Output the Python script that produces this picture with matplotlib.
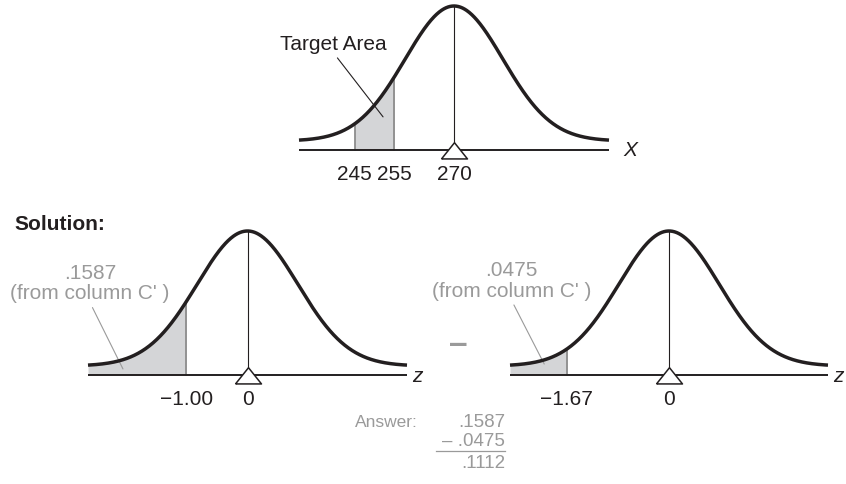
import numpy as np
import matplotlib
matplotlib.use('Agg')
import matplotlib.pyplot as plt
from matplotlib.lines import Line2D

plt.rcParams['font.family'] = ['Liberation Sans', 'DejaVu Sans']

# ---------------- data ----------------
means = [270, 0, 0]
sds = [15, 1, 1]
shade_lo = [245, None, None]          # None -> from the left end of the curve
shade_hi = [255, -1.00, -1.67]
tick_values = [[245, 255, 270], [-1.00, 0], [-1.67, 0]]
tick_labels = [['245', '255', '270'], ['\u22121.00', '0'], ['\u22121.67', '0']]
axis_names = ['X', 'z', 'z']
area_labels = ['Target Area', '.1587\n(from column C\' )', '.0475\n(from column C\' )']
answer_terms = ['.1587', '.0475']
answer_result = '.1112'

# ---------------- style / layout ----------------
FIG_W, FIG_H, DPI = 846, 485, 100
BLACK = '#231f20'
GRAY = '#9a9a9a'
FILL = '#d4d5d7'
EDGE = '#8c8c8c'
HALF = 2.6        # curve drawn over mean +/- HALF sd
TAIL = 0.0625     # tail height of the drawn bell above the baseline
WIDTH = 0.82      # drawn bell width in sd units
FS = 15

# pixel boxes: left, right, baseline, peak
boxes = [(299, 609, 151, 7), (88, 407, 376, 232), (510, 828, 376, 232)]
label_offsets = [14, 5, 5]           # px gap between axis end and axis name
text_pos = [(-2.02, 0.74), (-2.57, 0.642), (-2.58, 0.66)]   # in sd units / height
leader_tip = [(-1.19, 0.23), (-2.03, 0.042), (-2.04, 0.076)]
label_colors = [BLACK, GRAY, GRAY]

fig = plt.figure(figsize=(FIG_W / DPI, FIG_H / DPI), dpi=DPI)

tri = [(-1, -0.65), (1, -0.65), (0, 0.6), (-1, -0.65)]

for i in range(3):
    l, r, base, peak = boxes[i]
    ax = fig.add_axes([l / FIG_W, 1 - base / FIG_H, (r - l) / FIG_W, (base - peak) / FIG_H])
    m, s = means[i], sds[i]
    x0, x1 = m - HALF * s, m + HALF * s
    ax.set_xlim(x0, x1)
    ax.set_ylim(0, 1)
    ax.axis('off')

    x = np.linspace(x0, x1, 600)
    bell = lambda v: TAIL + (1 - TAIL) * np.exp(-0.5 * ((v - m) / (WIDTH * s)) ** 2)
    y = bell(x)

    lo = x0 if shade_lo[i] is None else shade_lo[i]
    hi = shade_hi[i]
    xs = np.linspace(lo, hi, 200)
    ax.fill_between(xs, 0, bell(xs), color=FILL, lw=0, zorder=1, clip_on=False)
    bounds = [hi] if shade_lo[i] is None else [lo, hi]
    for b in bounds:
        ax.plot([b, b], [0, bell(b)], color=EDGE, lw=1.3, zorder=2, clip_on=False)

    ax.plot([x0, x1], [0, 0], color=BLACK, lw=1.4, zorder=3, clip_on=False,
            solid_capstyle='butt')
    ax.plot([m, m], [0, 1], color=BLACK, lw=0.8, zorder=3, clip_on=False)
    ax.plot(x, y, color=BLACK, lw=2.5, zorder=4, clip_on=False,
            solid_capstyle='butt')
    ax.plot([m], [0], marker=tri, markersize=18.7, markerfacecolor='white',
            markeredgecolor=BLACK, markeredgewidth=1.1, zorder=5, clip_on=False)

    for v, t in zip(tick_values[i], tick_labels[i]):
        ax.annotate(t, xy=(v, 0), xytext=(0, -21), textcoords='offset points',
                    ha='center', va='baseline', fontsize=FS, color=BLACK)
    ax.annotate(axis_names[i], xy=(x1, 0), xytext=(label_offsets[i] * 72 / DPI, 0),
                textcoords='offset points', ha='left', va='center',
                fontsize=FS, fontstyle='italic', color=BLACK)

    tx, ty = text_pos[i]
    px, py = leader_tip[i]
    ax.annotate(area_labels[i], xy=(m + px * s, py), xytext=(m + tx * s, ty),
                ha='center', va='center', fontsize=FS, color=label_colors[i],
                linespacing=1.1, multialignment='center',
                arrowprops=dict(arrowstyle='-', color=label_colors[i], lw=0.8,
                                relpos=(0.5, 0), shrinkA=2, shrinkB=0),
                annotation_clip=False)

fig.text(14 / FIG_W, 1 - 225 / FIG_H, 'Solution:', fontsize=15, fontweight='bold',
         color=BLACK, ha='left', va='center')

fig.text(458 / FIG_W, 1 - 344 / FIG_H, '\u2013', fontsize=24, fontweight='bold',
         color=GRAY, ha='center', va='center')

AFS = 13.5
fig.text(418 / FIG_W, 1 - 423 / FIG_H, 'Answer:', fontsize=12.5, color=GRAY,
         ha='right', va='center')
fig.text(505 / FIG_W, 1 - 423 / FIG_H, answer_terms[0], fontsize=AFS, color=GRAY,
         ha='right', va='center')
fig.text(505 / FIG_W, 1 - 442 / FIG_H, '\u2013 ' + answer_terms[1], fontsize=AFS,
         color=GRAY, ha='right', va='center')
fig.add_artist(Line2D([436 / FIG_W, 505 / FIG_W], [1 - 452 / FIG_H, 1 - 452 / FIG_H],
                      color=GRAY, lw=0.9))
fig.text(505 / FIG_W, 1 - 463 / FIG_H, answer_result, fontsize=AFS, color=GRAY,
         ha='right', va='center')

fig.savefig('out.png', dpi=DPI, facecolor='white')
